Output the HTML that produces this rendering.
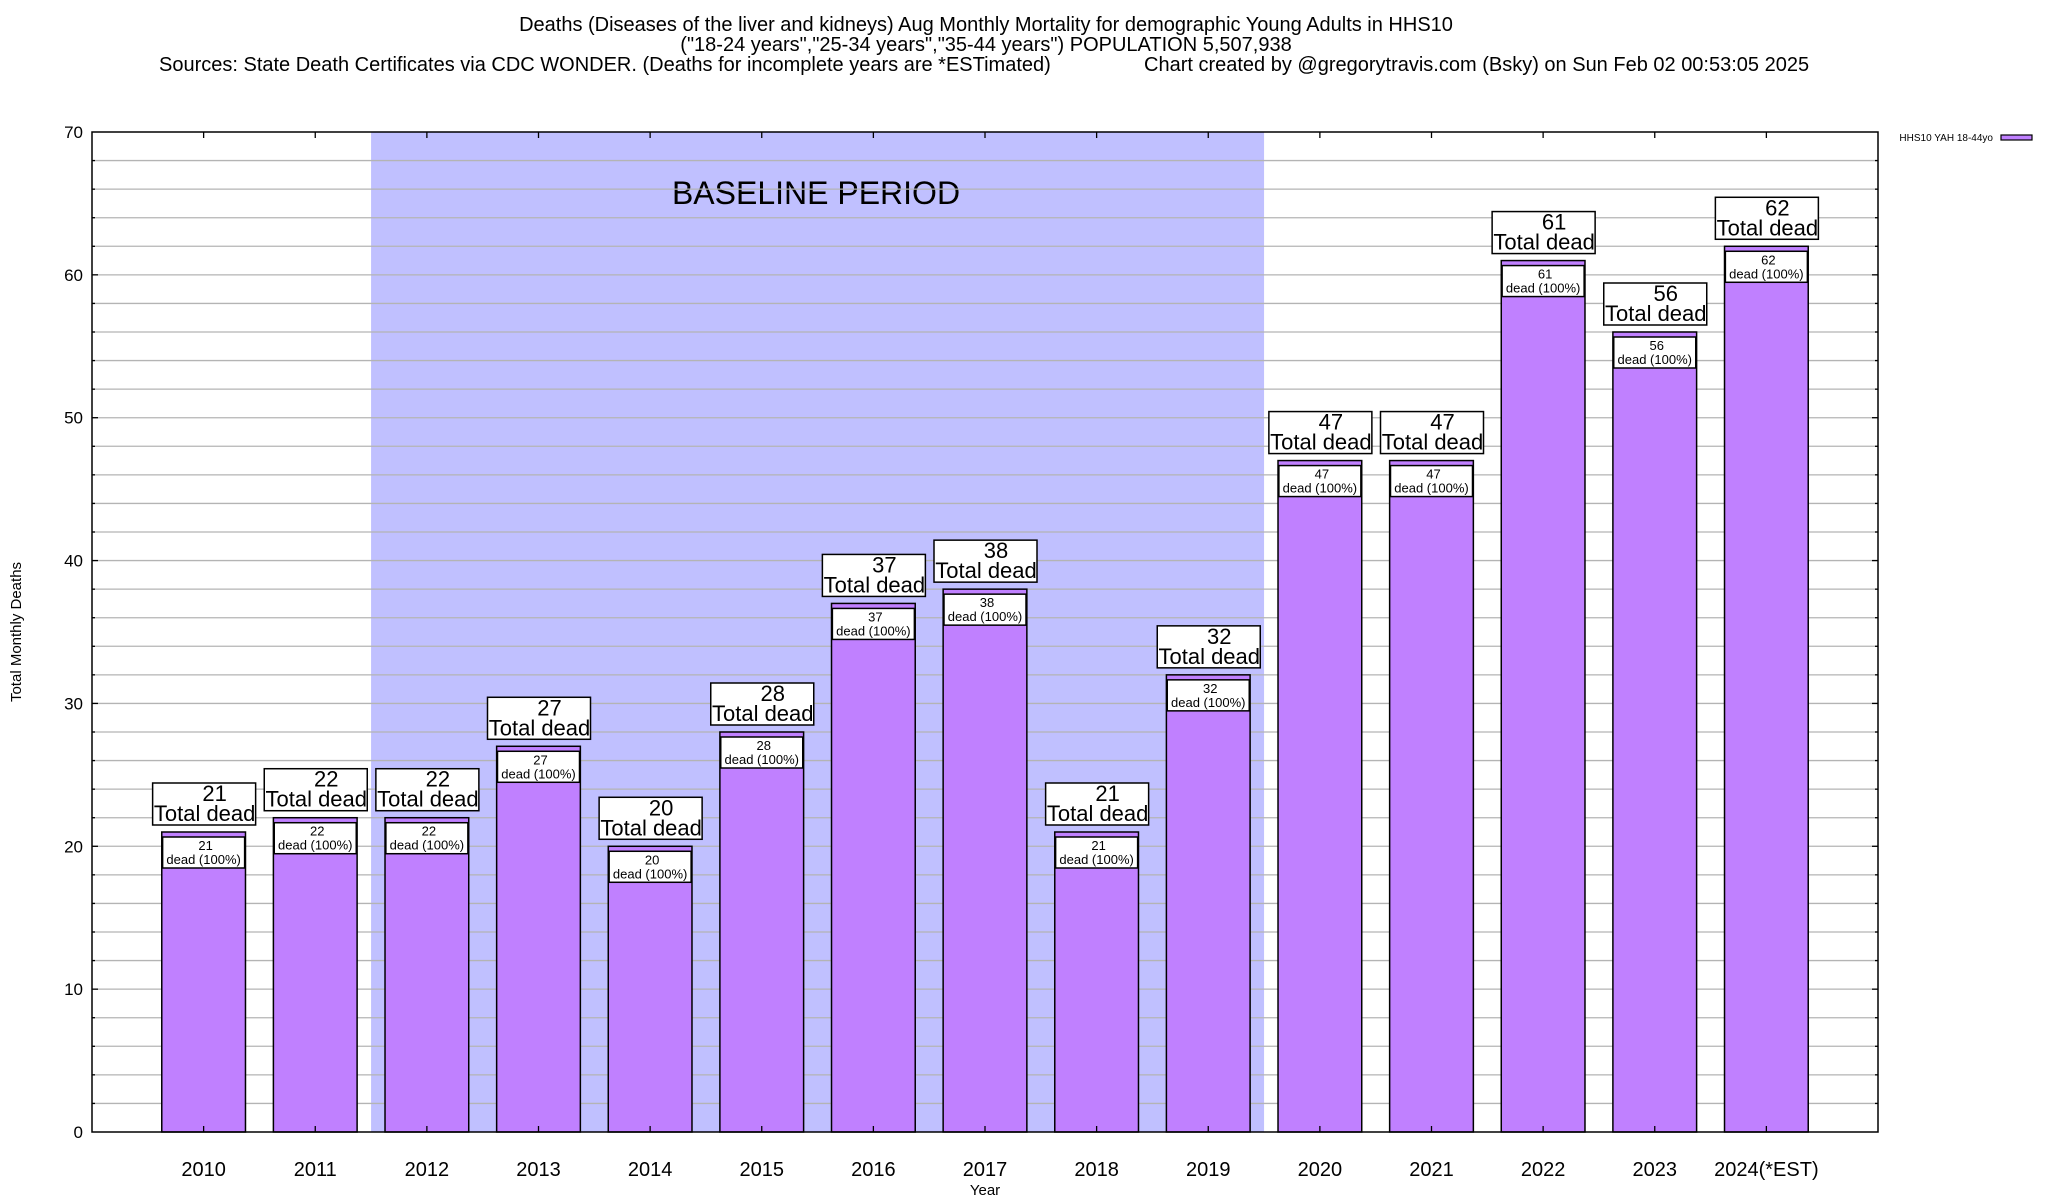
<!DOCTYPE html>
<html><head><meta charset="utf-8">
<style>
html,body{margin:0;padding:0;background:#fff;}
svg{display:block;font-family:"Liberation Sans",Arial,sans-serif;}
</style></head>
<body>
<svg id="chart" width="2048" height="1200" viewBox="0 0 2048 1200" xmlns="http://www.w3.org/2000/svg">
<g font-size="20" text-anchor="middle" fill="#000">
<text x="986" y="31">Deaths (Diseases of the liver and kidneys) Aug Monthly Mortality for demographic Young Adults in HHS10</text>
<text x="986" y="51">("18-24 years","25-34 years","35-44 years") POPULATION 5,507,938</text>
<text x="159" y="71" text-anchor="start">Sources: State Death Certificates via CDC WONDER. (Deaths for incomplete years are *ESTimated)</text>
<text x="1144" y="71" text-anchor="start">Chart created by @gregorytravis.com (Bsky) on Sun Feb 02 00:53:05 2025</text>
</g>
<g id="plot"></g>
</svg>
<script>
const categories = ["2010","2011","2012","2013","2014","2015","2016","2017","2018","2019","2020","2021","2022","2023","2024(*EST)"];
const deaths = [21,22,22,27,20,28,37,38,21,32,47,47,61,56,62];
const yTicks = [0,10,20,30,40,50,60,70];
const baselineRange = ["2012","2019"];

const L=92,R=1878,T=132,B=1132,YMAX=70,XMAX=16;
const NS="http://www.w3.org/2000/svg";
const g=document.getElementById('plot');
function y(v){return B-(v/YMAX)*(B-T);}
function x(i){return L+((i+1)/XMAX)*(R-L);}
const unit=(R-L)/XMAX;
function el(tag,attrs,parent){const e=document.createElementNS(NS,tag);for(const k in attrs)e.setAttribute(k,attrs[k]);(parent||g).appendChild(e);return e;}

const bi0=categories.indexOf(baselineRange[0]),bi1=categories.indexOf(baselineRange[1]);
const shade=el('rect',{x:x(bi0)-unit/2,y:T,width:(bi1-bi0+1)*unit,height:B-T,fill:'#c0c0ff'});


const bt=el('text',{x:816,y:204,'font-size':32,'text-anchor':'middle',fill:'#000'});
bt.textContent='BASELINE PERIOD';



for(let v=2;v<YMAX;v+=2){
  const gl=el('line',{x1:L,x2:R,y1:y(v),y2:y(v),stroke:'#b4b4b4','stroke-width':1.3});
  
  
  const major=v%10===0, len=major?6:3;
  el('line',{x1:L,x2:L+len,y1:y(v),y2:y(v),stroke:'#000','stroke-width':1.3});
  el('line',{x1:R,x2:R-len,y1:y(v),y2:y(v),stroke:'#000','stroke-width':1.3});
}
yTicks.forEach(v=>{
  const t=el('text',{x:83,y:y(v)+6,'font-size':17,'text-anchor':'end',fill:'#000'});
  t.textContent=v;
  
  
});

categories.forEach((c,i)=>{
  const cx=x(i),v=deaths[i],bw=unit*0.75;
  const bar=el('rect',{x:cx-bw/2,y:y(v),width:bw,height:B-y(v),fill:'#c080ff',stroke:'#000','stroke-width':1.5});
  
  
  const ib=el('rect',{x:cx-41,y:y(v)+5,width:82,height:31,fill:'#fff',stroke:'#000','stroke-width':1.5});
  
  
  const it1=el('text',{x:cx+2,y:y(v)+18,'font-size':13,'text-anchor':'middle',fill:'#000'});
  it1.textContent=v;
  
  
  const it2=el('text',{x:cx,y:y(v)+32,'font-size':13,'text-anchor':'middle',fill:'#000'});
  it2.textContent='dead (100%)';
  
  
  const tb=el('rect',{x:cx-51,y:y(v)-49,width:103,height:42,fill:'#fff',stroke:'#000','stroke-width':1.5});
  
  
  const tt1=el('text',{x:cx+11,y:y(v)-31,'font-size':22,'text-anchor':'middle',fill:'#000'});
  tt1.textContent=v;
  
  
  const tt2=el('text',{x:cx+1,y:y(v)-11,'font-size':22,'text-anchor':'middle',fill:'#000'});
  tt2.textContent='Total dead';
  
  
  el('line',{x1:cx,x2:cx,y1:T,y2:T+6,stroke:'#000','stroke-width':1.3});
  el('line',{x1:cx,x2:cx,y1:B,y2:B-6,stroke:'#000','stroke-width':1.3});
  const xl=el('text',{x:cx,y:1176,'font-size':20,'text-anchor':'middle',fill:'#000'});
  xl.textContent=c;
  
  
});

const border=el('rect',{x:L,y:T,width:R-L,height:B-T,fill:'none',stroke:'#000','stroke-width':1.5});



const xt=el('text',{x:985,y:1195,'font-size':15,'text-anchor':'middle',fill:'#000'});
xt.textContent='Year';


const yt=el('text',{x:0,y:0,'font-size':15,'text-anchor':'middle',fill:'#000',transform:'translate(21,632) rotate(-90)'});
yt.textContent='Total Monthly Deaths';



const lt=el('text',{x:1993,y:141,'font-size':10,'text-anchor':'end',fill:'#000'});
lt.textContent='HHS10 YAH 18-44yo';


const lb=el('rect',{x:2001,y:135,width:31,height:5,fill:'#c080ff',stroke:'#000','stroke-width':1.2});


</script>
</body></html>
